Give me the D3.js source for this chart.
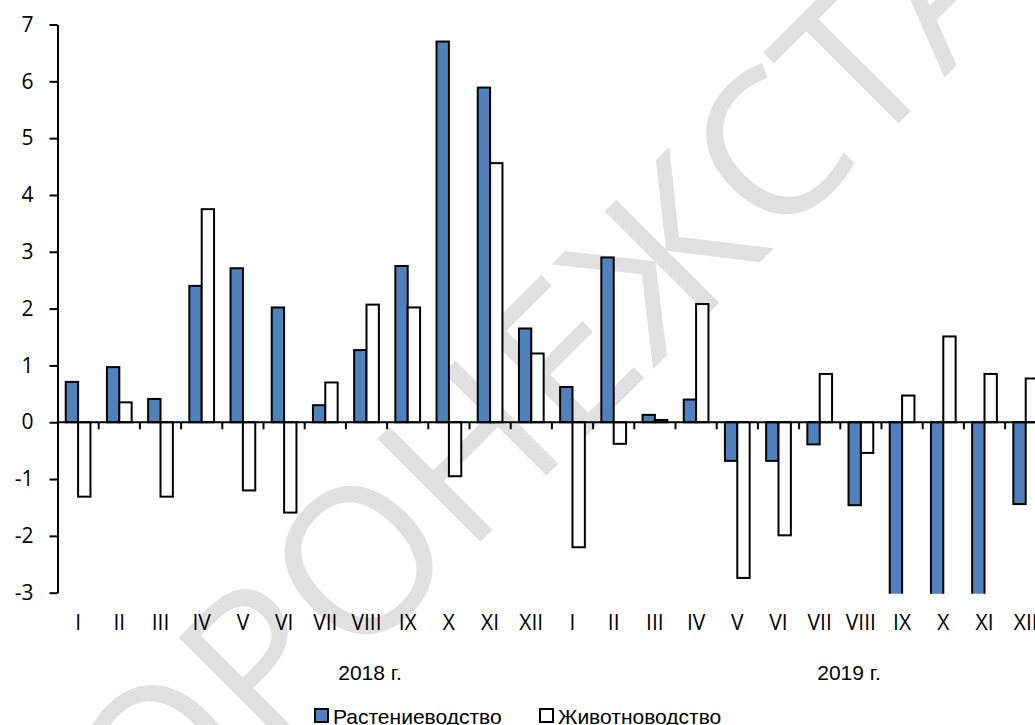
<!DOCTYPE html>
<html>
<head>
<meta charset="utf-8">
<script src="https://cdn.jsdelivr.net/npm/d3@7"></script>
<style>
  body { margin: 0; background: #fff; }
  svg { display: block; }
</style>
</head>
<body>
<div id="chart"></div>
<script>
// months of two years, roman numerals
var months = ['I', 'II', 'III', 'IV', 'V', 'VI', 'VII', 'VIII', 'IX', 'X', 'XI', 'XII']
var categories = months.concat(months)
var years = ['2018 г.', '2019 г.']
var seriesNames = ['Растениеводство', 'Животноводство']

// values
var cropValues = [
  0.71, 0.97, 0.41, 2.4, 2.71, 2.02, 0.3, 1.27, 2.75, 6.7, 5.89, 1.65,
  0.62, 2.9, 0.13, 0.4, -0.68, -0.68, -0.39, -1.46, -3.6, -3.9, -3.7, -1.44
]
var livestockValues = [
  -1.31, 0.35, -1.31, 3.75, -1.2, -1.59, 0.7, 2.07, 2.02, -0.95, 4.56, 1.21,
  -2.2, -0.38, 0.04, 2.08, -2.74, -1.99, 0.85, -0.54, 0.47, 1.51, 0.85, 0.77
]
var yTicks = [-3, -2, -1, 0, 1, 2, 3, 4, 5, 6, 7]

var width = 1035
var height = 725
var left = 57.5
var step = 41.2

var svg = d3
  .select('#chart')
  .append('svg')
  .attr('width', width)
  .attr('height', height)

// watermark behind the chart
svg
  .append('text')
  .text('ВОРОНЕЖСТАТ')
  .attr('font-family', 'Open Sans')
  .attr('font-size', 204)
  .attr('fill', '#e0e0e0')
  .attr('transform', 'translate(62,960) rotate(-45)')

var x = d3
  .scaleBand()
  .domain(d3.range(categories.length))
  .range([left, left + categories.length * step])
  .paddingInner(0.4)
  .paddingOuter(0.2)

var xSub = d3
  .scaleBand()
  .domain([0, 1])
  .range([0, x.bandwidth()])

var y = d3.scaleLinear().domain([-3, 7]).range([592.7, 24.5])

var colors = ['#4f81bd', '#ffffff']

svg
  .append('clipPath')
  .attr('id', 'plot-clip')
  .append('rect')
  .attr('x', left)
  .attr('y', 0)
  .attr('width', width)
  .attr('height', y(-3) + 1)

var rows = categories.map((d, i) => ({
  i: i,
  values: [cropValues[i], livestockValues[i]]
}))

var bars = svg.append('g').attr('clip-path', 'url(#plot-clip)')

bars
  .selectAll('.month')
  .data(rows)
  .enter()
  .append('g')
  .attr('class', 'month')
  .attr('transform', d => `translate(${x(d.i)},0)`)
  .selectAll('rect')
  .data(d => d.values.map((v, k) => ({ k: k, v: v })))
  .enter()
  .append('rect')
  .attr('x', d => xSub(d.k))
  .attr('y', d => Math.min(y(d.v), y(0)))
  .attr('width', xSub.bandwidth())
  .attr('height', d => Math.abs(y(d.v) - y(0)))
  .attr('fill', d => colors[d.k])
  .attr('stroke', '#000')
  .attr('stroke-width', 2)

// y axis, plain hyphen for negatives like the original
var yAxis = d3
  .axisLeft(y)
  .tickValues(yTicks)
  .tickFormat(d => String(d))
  .tickSize(8)
  .tickSizeOuter(0)
  .tickPadding(16)

var yg = svg
  .append('g')
  .attr('transform', `translate(${left},0)`)
  .call(yAxis)

yg.select('.domain').attr('stroke', '#000').attr('stroke-width', 2)
yg.selectAll('.tick line').attr('stroke', '#000').attr('stroke-width', 2)
yg
  .selectAll('.tick text')
  .attr('font-family', 'Open Sans')
  .attr('font-size', 21)
  .attr('fill', '#000')

// zero line with ticks between months
svg
  .append('line')
  .attr('x1', left)
  .attr('x2', width)
  .attr('y1', y(0))
  .attr('y2', y(0))
  .attr('stroke', '#000')
  .attr('stroke-width', 2)

svg
  .selectAll('.x-tick')
  .data(d3.range(1, categories.length + 1))
  .enter()
  .append('line')
  .attr('class', 'x-tick')
  .attr('x1', d => left + d * x.step())
  .attr('x2', d => left + d * x.step())
  .attr('y1', y(0))
  .attr('y2', y(0) + 7)
  .attr('stroke', '#000')
  .attr('stroke-width', 2)

svg
  .selectAll('.x-label')
  .data(rows)
  .enter()
  .append('text')
  .attr('class', 'x-label')
  .text(d => categories[d.i])
  .attr('x', d => x(d.i) + x.bandwidth() / 2)
  .attr('y', 629.5)
  .attr('text-anchor', 'middle')
  .attr('font-family', 'Open Sans')
  .attr('font-size', 21)
  .attr('fill', '#000')

// year labels
var yearX = [370, 849]
svg
  .selectAll('.year-label')
  .data(years)
  .enter()
  .append('text')
  .attr('class', 'year-label')
  .text(d => d)
  .attr('x', (d, i) => yearX[i])
  .attr('y', 680)
  .attr('text-anchor', 'middle')
  .attr('font-family', 'Liberation Sans, Arial, sans-serif')
  .attr('font-size', 21)
  .attr('fill', '#000')

// legend
var legendX = [315, 540]
var legend = svg
  .selectAll('.legend')
  .data(seriesNames)
  .enter()
  .append('g')
  .attr('class', 'legend')
  .attr('transform', (d, i) => `translate(${legendX[i]},709)`)

legend
  .append('rect')
  .attr('x', 0)
  .attr('y', 0)
  .attr('width', 13)
  .attr('height', 13)
  .attr('fill', (d, i) => colors[i])
  .attr('stroke', '#000')
  .attr('stroke-width', 2)

legend
  .append('text')
  .text(d => d)
  .attr('x', 18)
  .attr('y', 15)
  .attr('font-family', 'Liberation Sans, Arial, sans-serif')
  .attr('font-size', 21)
  .attr('fill', '#000')
</script>
</body>
</html>
